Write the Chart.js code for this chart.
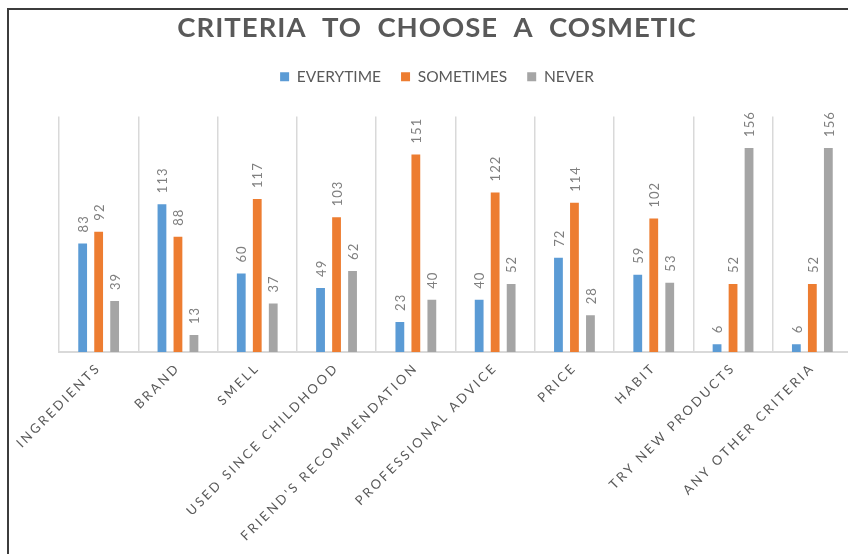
<!DOCTYPE html>
<html>
<head>
<meta charset="utf-8">
<script src="https://cdn.jsdelivr.net/npm/chart.js@4.4.1/dist/chart.umd.min.js"></script>
<style>
  html, body { margin: 0; padding: 0; background: #fff; overflow: hidden; width: 848px; height: 554px; }
  #wrap {
    position: absolute; left: 7px; top: 8px;
    border-left: 2px solid #3c3c3c; border-top: 2px solid #3c3c3c;
    width: 860px; height: 560px;
  }
  #chart { display: block; }
</style>
</head>
<body>
<div id="wrap"><canvas id="chart" width="860" height="544"></canvas></div>
<script>
// Data
const categories = ['INGREDIENTS', 'BRAND', 'SMELL', 'USED SINCE CHILDHOOD', "FRIEND'S RECOMMENDATION",
  'PROFESSIONAL ADVICE', 'PRICE', 'HABIT', 'TRY NEW PRODUCTS', 'ANY OTHER CRITERIA'];
const seriesNames = ['EVERYTIME', 'SOMETIMES', 'NEVER'];
const everytime = [83, 113, 60, 49, 23, 40, 72, 59, 6, 6];
const sometimes = [92, 88, 117, 103, 151, 122, 114, 102, 52, 52];
const never = [39, 13, 37, 62, 40, 52, 28, 53, 156, 156];
const yMax = 180;

const colors = ['#5b9bd5', '#ed7d31', '#a5a5a5'];
const textGray = '#595959';
const fontFamily = 'Lato, "Open Sans", sans-serif';

// rotated value labels above each bar
const valueLabels = {
  id: 'valueLabels',
  afterDatasetsDraw(chart) {
    const ctx = chart.ctx;
    ctx.save();
    ctx.font = '13px ' + fontFamily;
    ctx.fillStyle = '#7f7f7f';
    ctx.letterSpacing = '1px';
    ctx.textAlign = 'left';
    ctx.textBaseline = 'middle';
    chart.data.datasets.forEach((ds, i) => {
      chart.getDatasetMeta(i).data.forEach((bar, j) => {
        ctx.save();
        ctx.translate(bar.x + 1, bar.y - 11);
        ctx.rotate(-Math.PI / 2);
        ctx.fillText(String(ds.data[j]), 0, 0);
        ctx.restore();
      });
    });
    ctx.restore();
  }
};

const chart = new Chart(document.getElementById('chart'), {
  type: 'bar',
  data: {
    labels: categories,
    datasets: [
      { label: seriesNames[0], data: everytime, backgroundColor: colors[0] },
      { label: seriesNames[1], data: sometimes, backgroundColor: colors[1] },
      { label: seriesNames[2], data: never, backgroundColor: colors[2] }
    ]
  },
  options: {
    responsive: false,
    animation: false,
    categoryPercentage: 0.605,
    barPercentage: 0.55,
    layout: { padding: { left: 13, right: 17, top: 0, bottom: 0 } },
    plugins: {
      title: {
        display: true,
        text: 'CRITERIA  TO  CHOOSE  A  COSMETIC',
        color: textGray,
        font: { family: fontFamily, size: 27.5, weight: 'bold' },
        padding: { top: 2, bottom: 4 }
      },
      legend: {
        position: 'top',
        labels: {
          color: textGray,
          font: { family: fontFamily, size: 15.5 },
          boxWidth: 9, boxHeight: 9,
          padding: 20
        }
      },
      tooltip: { enabled: false }
    },
    scales: {
      x: {
        grid: { color: '#d9d9d9', lineWidth: 1.5, drawTicks: false, offset: true },
        border: { color: '#d9d9d9', width: 2 },
        ticks: {
          color: textGray,
          font: { family: fontFamily, size: 13 },
          minRotation: 45, maxRotation: 45,
          padding: 8,
          autoSkip: false
        },
        afterFit(scale) { scale.height = 202; }
      },
      y: {
        min: 0, max: yMax,
        grid: { display: false },
        border: { display: false },
        ticks: { display: false },
        afterFit(scale) { scale.width = 37; }
      }
    }
  },
  plugins: [valueLabels]
});

// extra room under the legend
const lg = chart.legend;
const origFit = lg.fit;
lg.fit = function () {
  origFit.call(this);
  this.height += 22;
};

// letter spacing for the title and the category labels
const xs = chart.scales.x;
const origLabels = xs.drawLabels;
xs.drawLabels = function (area) {
  const c = this.ctx;
  c.save();
  c.letterSpacing = '2.6px';
  origLabels.call(this, area);
  c.restore();
};
const tb = chart.titleBlock;
const origTitle = tb.draw;
tb.draw = function () {
  const c = this.ctx;
  c.save();
  c.letterSpacing = '1px';
  origTitle.call(this);
  c.restore();
};
chart.update();
</script>
</body>
</html>
